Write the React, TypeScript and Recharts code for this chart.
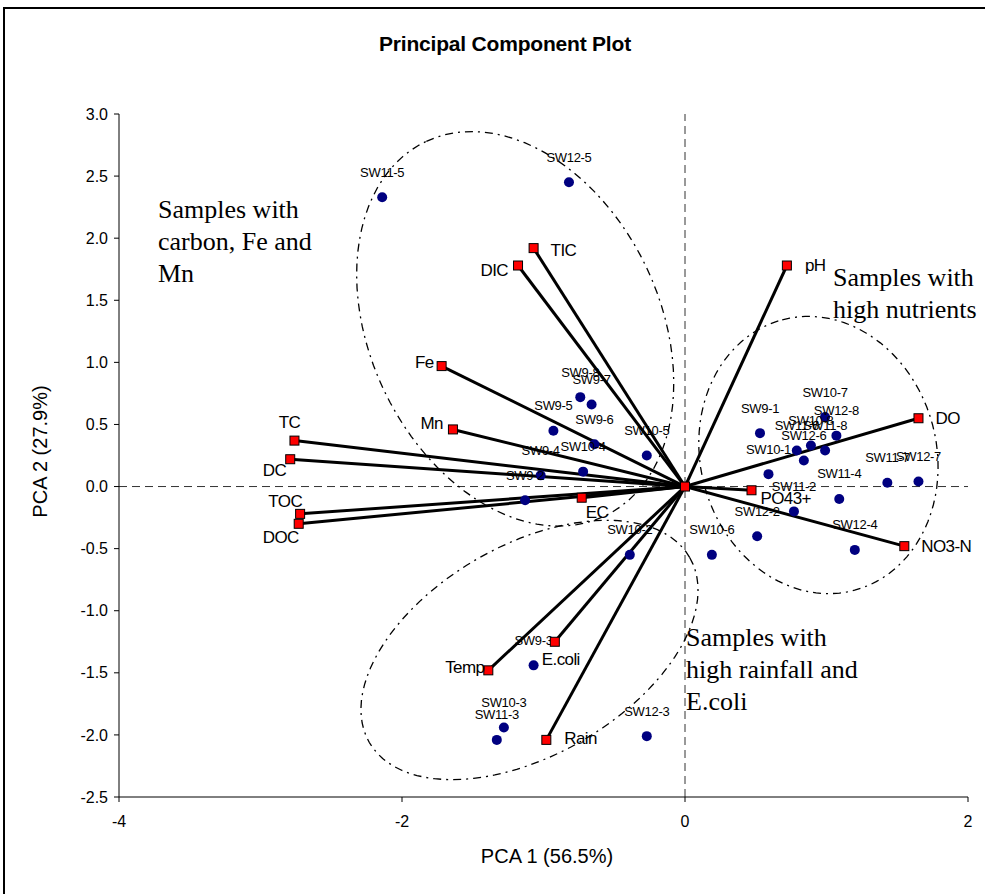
import { ScatterChart, Scatter, XAxis, YAxis, ReferenceLine } from 'recharts';

// sample scores (blue dots)
const sampleNames = [
  'SW11-5', 'SW12-5', 'SW9-8', 'SW9-7', 'SW9-5', 'SW9-6', 'SW10-5', 'SW10-4', 'SW9-4', 'SW9-2',
  'SW10-2', 'SW9-3', 'SW10-3', 'SW11-3', 'SW12-3', 'SW9-1', 'SW10-7', 'SW12-8', 'SW11-6', 'SW10-8',
  'SW11-8', 'SW12-6', 'SW10-1', 'SW11-7', 'SW12-7', 'SW11-4', 'SW11-2', 'SW12-2', 'SW10-6', 'SW12-4',
];
const sampleX = [
  -2.14, -0.82, -0.74, -0.66, -0.93, -0.64, -0.27, -0.72, -1.02, -1.13,
  -0.39, -1.07, -1.28, -1.33, -0.27, 0.53, 0.99, 1.07, 0.79, 0.89,
  0.99, 0.84, 0.59, 1.43, 1.65, 1.09, 0.77, 0.51, 0.19, 1.2,
];
const sampleY = [
  2.33, 2.45, 0.72, 0.66, 0.45, 0.34, 0.25, 0.12, 0.09, -0.11,
  -0.55, -1.44, -1.94, -2.04, -2.01, 0.43, 0.56, 0.41, 0.29, 0.33,
  0.29, 0.21, 0.1, 0.03, 0.04, -0.1, -0.2, -0.4, -0.55, -0.51,
];

// variable loadings (red squares joined to the origin)
const variableNames = [
  'pH', 'TIC', 'DIC', 'Fe', 'Mn', 'TC', 'DC', 'TOC', 'DOC', 'EC', 'PO43+', 'DO', 'NO3-N', 'E.coli', 'Temp', 'Rain',
];
const variableX = [0.72, -1.07, -1.18, -1.72, -1.64, -2.76, -2.79, -2.72, -2.73, -0.73, 0.47, 1.65, 1.55, -0.92, -1.39, -0.98];
const variableY = [1.78, 1.92, 1.78, 0.97, 0.46, 0.37, 0.22, -0.22, -0.3, -0.09, -0.03, 0.55, -0.48, -1.25, -1.48, -2.04];

// group outlines: centre and two conjugate semi-axes, data units
const ellipseCentres = [[-1.2, 1.27], [0.943, 0.254], [-1.099, -1.316]];
const ellipseAxisA = [[-0.628, 1.51], [-0.256, 1.089], [1.132, 0.745]];
const ellipseAxisB = [[0.928, 0.494], [0.806, 0.246], [0.371, -0.732]];

const xTicks = [-4, -2, 0, 2];
const yTicks = [-2.5, -2, -1.5, -1, -0.5, 0, 0.5, 1, 1.5, 2, 2.5, 3];

const sans = '"Liberation Sans", Arial, sans-serif';
const serif = '"Liberation Serif", "Times New Roman", serif';

const labelPos: Record<string, { dx: number; dy: number; anchor: 'start' | 'middle' | 'end' }> = {
  pH: { dx: 18, dy: 0, anchor: 'start' },
  TIC: { dx: 17, dy: 2, anchor: 'start' },
  DIC: { dx: -10, dy: 5, anchor: 'end' },
  Fe: { dx: -8, dy: -4, anchor: 'end' },
  Mn: { dx: -10, dy: -6, anchor: 'end' },
  TC: { dx: -5, dy: -18, anchor: 'middle' },
  DC: { dx: -4, dy: 11, anchor: 'end' },
  TOC: { dx: 2, dy: -12, anchor: 'end' },
  DOC: { dx: 0, dy: 14, anchor: 'end' },
  EC: { dx: 4, dy: 15, anchor: 'start' },
  'PO43+': { dx: 9, dy: 8, anchor: 'start' },
  DO: { dx: 17, dy: 0, anchor: 'start' },
  'NO3-N': { dx: 17, dy: 0, anchor: 'start' },
  'E.coli': { dx: -13, dy: 18, anchor: 'start' },
  Temp: { dx: -4, dy: -3, anchor: 'end' },
  Rain: { dx: 18, dy: -1, anchor: 'start' },
};

const samples = sampleNames.map((name, i) => ({ name, x: sampleX[i], y: sampleY[i] }));
const variables = variableNames.map((name, i) => ({ name, x: variableX[i], y: variableY[i] }));
const origin = [{ name: '', x: 0, y: 0 }];

const ellipses = ellipseCentres.map((c, i) => {
  const a = ellipseAxisA[i];
  const b = ellipseAxisB[i];
  const pts = [];
  for (let k = 0; k <= 96; k++) {
    const t = (2 * Math.PI * k) / 96;
    pts.push({ x: c[0] + a[0] * Math.cos(t) + b[0] * Math.sin(t), y: c[1] + a[1] * Math.cos(t) + b[1] * Math.sin(t) });
  }
  return pts;
});

const NoPoint = () => <g />;

const SampleDot = (props: any) => {
  const { cx, cy, payload } = props;
  return (
    <g>
      <circle cx={cx} cy={cy} r={5} fill="#000080" />
      <text x={cx} y={cy - 25} textAnchor="middle" dominantBaseline="central" fontSize={13} letterSpacing={-0.3} fontFamily={sans} fill="#000">
        {payload.name}
      </text>
    </g>
  );
};

const VariableSquare = (props: any) => {
  const { cx, cy, payload } = props;
  const pos = labelPos[payload.name];
  return (
    <g>
      <rect x={cx - 4.5} y={cy - 4.5} width={9} height={9} fill="#ff0000" stroke="#000" strokeWidth={1} />
      {pos && (
        <text x={cx + pos.dx} y={cy + pos.dy} textAnchor={pos.anchor} dominantBaseline="central" fontSize={17} letterSpacing={-0.6} fontFamily={sans} fill="#000">
          {payload.name}
        </text>
      )}
    </g>
  );
};

const noteStyle = {
  position: 'absolute' as const,
  fontFamily: serif,
  fontSize: 26,
  lineHeight: '32px',
  color: '#000',
  whiteSpace: 'nowrap' as const,
};

export default function App() {
  return (
    <div
      style={{
        position: 'absolute',
        left: 3,
        top: 7,
        width: 980,
        height: 885,
        borderLeft: '2px solid #000',
        borderTop: '2px solid #000',
        background: '#fff',
        fontFamily: sans,
      }}
    >
      <div style={{ position: 'absolute', left: 250, width: 500, top: 23, textAlign: 'center', fontWeight: 'bold', fontSize: 21, letterSpacing: -0.2 }}>
        Principal Component Plot
      </div>
      <ScatterChart width={980} height={885} margin={{ top: 105, right: 17, bottom: 67, left: 54 }}>
        <XAxis
          type="number"
          dataKey="x"
          domain={[-4, 2]}
          ticks={xTicks}
          height={30}
          tickSize={5}
          tickMargin={14}
          stroke="#000"
          tick={{ fill: '#000', fontSize: 16, fontFamily: sans }}
        />
        <YAxis
          type="number"
          dataKey="y"
          domain={[-2.5, 3]}
          ticks={yTicks}
          width={60}
          tickSize={5}
          tickMargin={6}
          stroke="#000"
          tick={{ fill: '#000', fontSize: 16, fontFamily: sans }}
          tickFormatter={(v: number) => v.toFixed(1)}
        />
        <ReferenceLine x={0} stroke="#333" strokeDasharray="8 5" />
        <ReferenceLine y={0} stroke="#333" strokeDasharray="8 5" />
        {ellipses.map((pts, i) => (
          <Scatter
            key={`ellipse-${i}`}
            data={pts}
            line={{ stroke: '#000', strokeWidth: 1.3, strokeDasharray: '8 5 2 5' }}
            shape={NoPoint}
            isAnimationActive={false}
          />
        ))}
        {variables.map((v) => (
          <Scatter
            key={`vec-${v.name}`}
            data={[{ x: 0, y: 0 }, { x: v.x, y: v.y }]}
            line={{ stroke: '#000', strokeWidth: 3 }}
            shape={NoPoint}
            isAnimationActive={false}
          />
        ))}
        <Scatter data={samples} shape={SampleDot} isAnimationActive={false} />
        <Scatter data={variables} shape={VariableSquare} isAnimationActive={false} />
        <Scatter data={origin} shape={VariableSquare} isAnimationActive={false} />
      </ScatterChart>
      <div style={{ position: 'absolute', left: 342, width: 400, top: 836, textAlign: 'center', fontSize: 20 }}>PCA 1 (56.5%)</div>
      <div
        style={{
          position: 'absolute',
          left: 35 - 100,
          width: 200,
          top: 443 - 12,
          textAlign: 'center',
          fontSize: 20,
          transform: 'rotate(-90deg)',
        }}
      >
        PCA 2 (27.9%)
      </div>
      <div style={{ ...noteStyle, left: 153, top: 185 }}>
        Samples with
        <br />
        carbon, Fe and
        <br />
        Mn
      </div>
      <div style={{ ...noteStyle, left: 828, top: 253 }}>
        Samples with
        <br />
        high nutrients
      </div>
      <div style={{ ...noteStyle, left: 681, top: 613 }}>
        Samples with
        <br />
        high rainfall and
        <br />
        E.coli
      </div>
    </div>
  );
}
